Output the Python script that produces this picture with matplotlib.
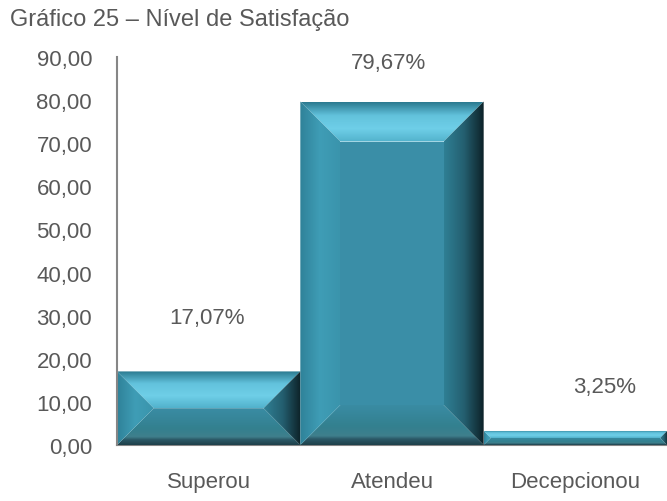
import numpy as np
import matplotlib
matplotlib.use('Agg')
import matplotlib.pyplot as plt
from matplotlib.patches import Polygon
from matplotlib.colors import LinearSegmentedColormap

categories = ['Superou', 'Atendeu', 'Decepcionou']
values = [17.07, 79.67, 3.25]
value_labels = ['17,07%', '79,67%', '3,25%']
yticks = [0, 10, 20, 30, 40, 50, 60, 70, 80, 90]
ytick_labels = ['0,00', '10,00', '20,00', '30,00', '40,00', '50,00', '60,00', '70,00', '80,00', '90,00']
title = 'Gráfico 25 – Nível de Satisfação'

# label placement offsets in pixels (dx, dy above bar top)
label_offsets = [(-2, 54), (-4, 39), (29, 44)]

plt.rcParams['font.family'] = ['Liberation Sans', 'DejaVu Sans']
txt_color = '#595959'
fs = 16

W, H = 667, 502
fig = plt.figure(figsize=(W / 100, H / 100), dpi=100)
ax_l, ax_r, ax_b, ax_t = 117, 667, 446, 58
ax = fig.add_axes([ax_l / W, (H - ax_b) / H, (ax_r - ax_l) / W, (ax_b - ax_t) / H])
ax.set_xlim(-0.5, 2.5)
ax.set_ylim(0, 90)
px_x = (ax_r - ax_l) / 3.0
px_y = (ax_b - ax_t) / 90.0

face_col = '#3a8ea7'
cm_top = LinearSegmentedColormap.from_list('top', ['#52b2cc', '#6fcfe8', '#62c2dc', '#2b7a90'])
cm_left = LinearSegmentedColormap.from_list('left', ['#3a94ac', '#3f9db6', '#2f8299'])
cm_right = LinearSegmentedColormap.from_list('right', ['#2f7f94', '#245f70', '#0d2228'])
cm_bot = LinearSegmentedColormap.from_list('bot', [(0.0, '#3a8ca4'), (0.55, '#33808f'), (0.78, '#3f7f8c'),
                                                    (0.86, '#2b5866'), (1.0, '#1f414b')])

N = 96
grad = np.linspace(0, 1, N)


def grad_poly(pts, cmap, arr, extent, z):
    poly = Polygon(pts, closed=True, transform=ax.transData, facecolor='none', edgecolor='none')
    im = ax.imshow(arr, cmap=cmap, vmin=0, vmax=1, extent=extent, origin='lower',
                   aspect='auto', interpolation='bilinear', zorder=z)
    im.set_clip_path(poly)


def bevel_bar(xc, h, width, z):
    x0, x1 = xc - width / 2, xc + width / 2
    y0, y1 = 0, h
    hp = h * px_y
    wp = width * px_x
    b = min(40, hp / 2, wp / 2)
    bx, by = b / px_x, b / px_y
    ax.add_patch(Polygon([(x0 + bx, y0 + by), (x1 - bx, y0 + by), (x1 - bx, y1 - by), (x0 + bx, y1 - by)],
                         closed=True, facecolor=face_col, edgecolor='none', zorder=z))
    grad_poly([(x0, y1), (x1, y1), (x1 - bx, y1 - by), (x0 + bx, y1 - by)], cm_top,
              grad[:, None], [x0, x1, y1 - by, y1], z)
    grad_poly([(x0, y0), (x1, y0), (x1 - bx, y0 + by), (x0 + bx, y0 + by)], cm_bot,
              grad[::-1][:, None], [x0, x1, y0, y0 + by], z)
    grad_poly([(x0, y0), (x0, y1), (x0 + bx, y1 - by), (x0 + bx, y0 + by)], cm_left,
              grad[::-1][None, :], [x0, x0 + bx, y0, y1], z + 0.1)
    grad_poly([(x1, y0), (x1, y1), (x1 - bx, y1 - by), (x1 - bx, y0 + by)], cm_right,
              grad[None, :], [x1 - bx, x1, y0, y1], z + 0.1)


for i, v in enumerate(values):
    bevel_bar(i, v, 1.0, 2 + i)

for i, (v, lab) in enumerate(zip(values, value_labels)):
    dx, dy = label_offsets[i]
    ax.annotate(lab, xy=(i, v), xytext=(dx * 0.72, dy * 0.72), textcoords='offset points',
                ha='center', va='center', fontsize=fs, color=txt_color, zorder=10)

ax.set_xticks(range(len(categories)))
ax.set_xticklabels(categories)
ax.set_yticks(yticks)
ax.set_yticklabels(ytick_labels)
ax.tick_params(axis='both', length=0, labelsize=fs, labelcolor=txt_color)
ax.tick_params(axis='x', pad=19)
ax.tick_params(axis='y', pad=18)

for s in ['top', 'right']:
    ax.spines[s].set_visible(False)
for s in ['left', 'bottom']:
    ax.spines[s].set_color('#868686')
    ax.spines[s].set_linewidth(1.5)
ax.spines['bottom'].set_zorder(1)
ax.spines['left'].set_zorder(20)
ax.patch.set_alpha(0)

fig.text(10 / W, 1 - 20 / H, title, ha='left', va='center', fontsize=17, color=txt_color)

fig.savefig('out.png', dpi=100)
